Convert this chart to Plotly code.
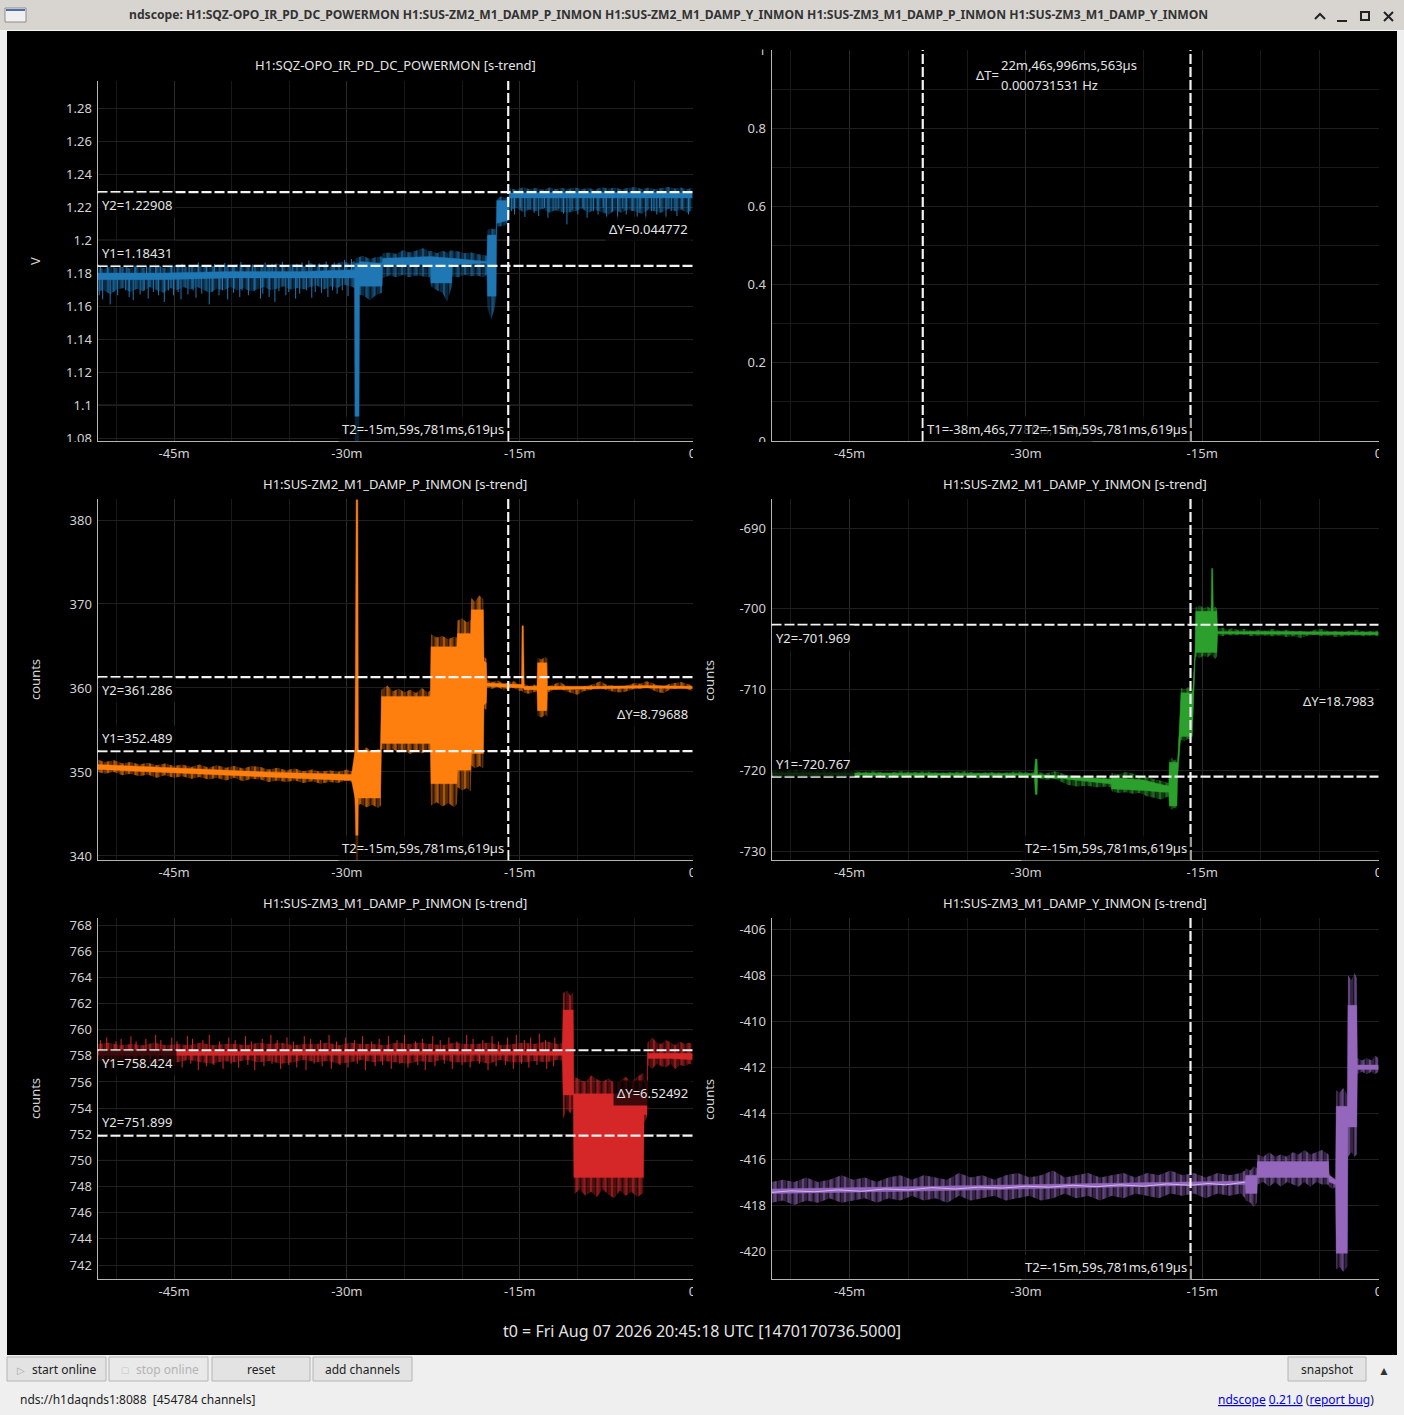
import plotly.graph_objects as go

W = 1404
H = 1415

blue = "#1f77b4"
orange = "#ff7f0e"
green = "#2ca02c"
red = "#d62728"
purple = "#9467bd"

# time in minutes before t0
blue_core_t = [-51.65, -46, -40, -34, -29.35, -29.3, -28.95, -28.9, -26.95, -26.9, -22.75, -22.7, -20.9, -20.85, -17.85, -17.8, -17.05, -17.0, -15.95, -15.9, -10, -5, 0]
blue_core_hi = [1.180, 1.180, 1.181, 1.181, 1.182, 1.186, 1.186, 1.187, 1.186, 1.189, 1.190, 1.190, 1.189, 1.189, 1.187, 1.203, 1.203, 1.224, 1.224, 1.2285, 1.229, 1.229, 1.2285]
blue_core_lo = [1.176, 1.176, 1.177, 1.177, 1.177, 1.078, 1.078, 1.172, 1.172, 1.185, 1.185, 1.174, 1.174, 1.185, 1.186, 1.166, 1.166, 1.210, 1.212, 1.2255, 1.2255, 1.2255, 1.2255]
blue_edge_t = [-51.65, -51.1, -50.5, -50.0, -49.4, -48.8, -48.2, -47.7, -47.1, -46.5, -45.9, -45.3, -44.8, -44.2, -43.6, -43.0, -42.4, -41.9, -41.3, -40.7, -40.1, -39.5, -39.0, -38.4, -37.8, -37.2, -36.6, -36.1, -35.5, -34.9, -34.3, -33.7, -33.2, -32.6, -32.0, -31.4, -30.8, -30.3, -29.7, -29.3,
               -29.25, -28.6, -28.0, -27.5, -26.95, -26.9, -26.3, -25.7, -25.1, -24.6, -24.0, -23.4, -22.8, -22.7, -22.2, -21.7, -21.3, -20.9, -20.85, -20.3, -19.8, -19.2, -18.7, -18.2, -17.85, -17.8, -17.5, -17.2, -17.0, -16.95, -16.6, -16.2, -15.9,
               -15.85, -15.3, -14.7, -14.2, -13.6, -13.0, -12.4, -11.9, -11.3, -10.9, -10.2, -9.6, -9.0, -8.5, -7.9, -7.3, -6.7, -6.2, -5.6, -5.0, -4.4, -3.8, -3.3, -2.7, -2.1, -1.5, -1.0, -0.5, 0]
blue_edge_hi = [1.1835, 1.1825, 1.1840, 1.1830, 1.1838, 1.1828, 1.1842, 1.1832, 1.1836, 1.1845, 1.1830, 1.1838, 1.1848, 1.1834, 1.1842, 1.1852, 1.1836, 1.1846, 1.1838, 1.1850, 1.1840, 1.1855, 1.1842, 1.1848, 1.1838, 1.1852, 1.1844, 1.1858, 1.1846, 1.1850, 1.1856, 1.1842, 1.1860, 1.1850, 1.1856, 1.1848, 1.1862, 1.1870, 1.1860, 1.1875,
                1.189, 1.1905, 1.1885, 1.1895, 1.190, 1.192, 1.1925, 1.1915, 1.194, 1.1925, 1.1935, 1.195, 1.193, 1.1935, 1.192, 1.1935, 1.1925, 1.194, 1.1935, 1.193, 1.192, 1.1925, 1.1915, 1.191, 1.1905, 1.206, 1.207, 1.2065, 1.2075, 1.225, 1.2265, 1.2255, 1.2275,
                1.2315, 1.2305, 1.232, 1.231, 1.2315, 1.2305, 1.2318, 1.231, 1.2315, 1.2308, 1.2318, 1.231, 1.2315, 1.2305, 1.232, 1.2312, 1.2318, 1.2308, 1.2315, 1.2322, 1.231, 1.2318, 1.2308, 1.2315, 1.2322, 1.2312, 1.2318, 1.2308, 1.2315]
blue_edge_lo = [1.169, 1.1695, 1.167, 1.170, 1.171, 1.1685, 1.1705, 1.169, 1.1715, 1.1695, 1.168, 1.171, 1.1695, 1.1715, 1.170, 1.1715, 1.1695, 1.168, 1.1705, 1.1695, 1.1715, 1.1695, 1.1710, 1.1690, 1.1700, 1.1715, 1.1695, 1.1705, 1.1720, 1.1700, 1.1710, 1.1700, 1.1715, 1.1725, 1.1700, 1.1720, 1.1710, 1.1730, 1.1720, 1.1710,
                1.167, 1.1665, 1.1635, 1.1665, 1.168, 1.177, 1.1785, 1.1775, 1.179, 1.1775, 1.1785, 1.178, 1.1775, 1.172, 1.1695, 1.168, 1.1625, 1.172, 1.178, 1.1775, 1.179, 1.178, 1.1785, 1.1775, 1.179, 1.159, 1.1515, 1.158, 1.166, 1.208, 1.2085, 1.209, 1.214,
                1.218, 1.2195, 1.217, 1.2185, 1.2175, 1.219, 1.2165, 1.218, 1.217, 1.2165, 1.2175, 1.219, 1.2165, 1.2185, 1.217, 1.2155, 1.218, 1.2165, 1.2185, 1.2175, 1.216, 1.2185, 1.2175, 1.2165, 1.219, 1.2175, 1.2185, 1.2165, 1.218]
blue_low_t = [-51.5, -51.2, -50.55, -50.3, -49.9, -49.2, -48.9, -48.55, -47.95, -47.6,
              -47.25, -46.8, -46.35, -45.85, -45.5, -45.05, -44.65, -44.4, -43.8, -43.35,
              -43.1, -42.6, -41.95, -41.7, -41.1, -40.8, -40.35, -39.85, -39.3, -39.1,
              -38.55, -38.05, -37.5, -37.3, -36.75, -36.25, -35.9, -35.3, -35.05, -34.45,
              -34.1, -33.5, -33.05, -32.75, -32.2, -31.65, -31.25, -30.85, -30.4, -29.9]
blue_low_y = [1.1665, 1.164, 1.161, 1.1685, 1.1665, 1.1695, 1.1655, 1.1635, 1.167, 1.1695,
              1.1645, 1.1685, 1.1665, 1.1625, 1.1695, 1.1665, 1.1685, 1.164, 1.167, 1.1695,
              1.165, 1.1675, 1.161, 1.1685, 1.1665, 1.1695, 1.164, 1.168, 1.1655, 1.1695,
              1.1665, 1.169, 1.1645, 1.1675, 1.1655, 1.1625, 1.169, 1.1665, 1.1685, 1.1645,
              1.1675, 1.1695, 1.165, 1.1685, 1.168, 1.1655, 1.1695, 1.1675, 1.1695, 1.166]
blue_up_t = [-51.4, -50.8, -49.7, -49.1, -48.4, -47.4, -46.6, -46.2, -45.2, -44.3,
             -43.7, -42.9, -42.2, -41.5, -40.6, -39.9, -39.2, -38.2, -37.1, -36.5,
             -35.6, -34.7, -33.9, -33.3, -32.4, -31.8, -31.1, -30.2, -29.6]
blue_up_y = [1.1838, 1.1848, 1.1842, 1.1836, 1.1852, 1.1845, 1.1858, 1.1842, 1.1850, 1.1856,
             1.1848, 1.1864, 1.1846, 1.1856, 1.1860, 1.1848, 1.1868, 1.1852, 1.1862, 1.1856,
             1.1868, 1.1852, 1.1864, 1.1876, 1.1858, 1.1870, 1.1864, 1.1880, 1.1885]
blue_right_t = [-15.7, -15.45, -14.95, -14.55, -14.1, -13.75, -13.35, -12.85, -12.55, -12.1,
                -11.6, -11.2, -10.9, -10.45, -9.95, -9.5, -9.15, -8.6, -8.2, -7.75,
                -7.45, -6.95, -6.5, -6.05, -5.75, -5.25, -4.8, -4.55, -4.05, -3.55,
                -3.1, -2.85, -2.3, -1.85, -1.35, -0.9, -0.35]
blue_right_y = [1.2175, 1.2155, 1.2195, 1.214, 1.2185, 1.2165, 1.2145, 1.2195, 1.2135, 1.2175,
                1.219, 1.216, 1.2095, 1.218, 1.2155, 1.2195, 1.2135, 1.2175, 1.2155, 1.2195,
                1.214, 1.2175, 1.2125, 1.219, 1.2155, 1.2175, 1.214, 1.219, 1.2125, 1.2175,
                1.2155, 1.2195, 1.2135, 1.2175, 1.2145, 1.219, 1.2155]

orange_core_t = [-51.65, -47, -42, -37, -32, -29.6, -29.3, -29.2, -29.05, -29.0, -27.1, -27.0, -22.75, -22.7, -20.45, -20.4, -19.25, -19.2, -18.15, -18.1, -17.9, -17.85, -14.85, -14.8, -14.68, -14.6, -13.5, -13.45, -12.65, -12.6, -8, -4, 0]
orange_core_hi = [350.9, 350.6, 350.3, 350.0, 349.8, 349.7, 352.5, 382.4, 382.4, 352.5, 352.5, 359.0, 359.0, 364.9, 364.9, 366.5, 366.5, 369.3, 369.3, 363.2, 363.0, 360.6, 360.4, 367.4, 367.4, 360.2, 360.2, 363.0, 363.0, 360.2, 360.2, 360.3, 360.2]
orange_core_lo = [350.3, 350.0, 349.7, 349.4, 349.1, 349.0, 346.9, 339.5, 339.5, 346.9, 346.9, 353.4, 353.4, 348.6, 348.6, 350.2, 350.2, 352.2, 352.2, 358.0, 358.2, 360.2, 360.0, 360.0, 360.0, 359.8, 359.8, 357.3, 357.3, 359.8, 359.9, 360.0, 359.9]
orange_edge_t = [-51.65, -51, -50.2, -49.5, -48.8, -48, -47.3, -46.5, -45.8, -45, -44.3, -43.5, -42.8, -42, -41.3, -40.5, -39.8, -39, -38.3, -37.5, -36.8, -36, -35.3, -34.5, -33.8, -33, -32.3, -31.5, -30.8, -30, -29.4,
                 -29.3, -28.8, -28.3, -27.8, -27.3, -27.05, -27, -26.5, -26, -25.5, -25, -24.5, -24, -23.5, -23, -22.75,
                 -22.7, -22.2, -21.7, -21.2, -20.7, -20.45, -20.4, -20, -19.6, -19.25, -19.2, -18.9, -18.5, -18.15, -18.1, -17.9,
                 -17.85, -17.4, -16.9, -16.4, -16, -15.5, -15, -14.85, -14.6, -14.2, -13.8, -13.5, -13.45, -13.1, -12.8, -12.6,
                 -12.55, -12, -11.5, -11, -10.5, -10, -9.5, -9, -8.5, -8, -7.5, -7, -6.5, -6, -5.5, -5, -4.5, -4, -3.5, -3, -2.5, -2, -1.5, -1, -0.5, 0]
orange_edge_hi = [351.5, 351.2, 351.4, 351.0, 351.2, 350.9, 351.1, 350.8, 351.0, 350.7, 350.9, 350.6, 350.9, 350.5, 350.8, 350.5, 350.7, 350.4, 350.7, 350.6, 350.3, 350.5, 350.2, 350.4, 350.1, 350.3, 350.0, 350.2, 350.0, 350.3, 350.0,
                  353.0, 352.5, 352.9, 352.4, 352.8, 352.6, 359.8, 360.3, 359.6, 359.9, 359.5, 359.8, 359.4, 360.0, 359.5, 359.7,
                  366.4, 366.0, 366.2, 365.8, 366.1, 366.0, 368.0, 368.3, 367.8, 368.1, 370.7, 370.3, 371.0, 370.6, 363.7, 363.5,
                  361.0, 360.7, 360.9, 360.5, 360.6, 360.8, 360.4, 360.5, 360.5, 360.2, 360.4, 360.3, 363.6, 363.4, 363.7, 363.5,
                  360.2, 360.5, 360.7, 360.3, 360.1, 359.8, 360.2, 360.3, 360.5, 360.8, 360.4, 360.3, 360.2, 360.1, 360.4, 360.6, 360.5, 360.8, 360.6, 360.3, 360.2, 360.5, 360.6, 360.7, 360.5, 360.3]
orange_edge_lo = [350.0, 349.8, 350.0, 349.6, 349.8, 349.5, 349.7, 349.3, 349.6, 349.3, 349.5, 349.2, 349.4, 349.1, 349.3, 349.0, 349.3, 348.9, 349.2, 349.1, 348.8, 349.0, 348.8, 349.0, 348.7, 348.9, 348.6, 348.8, 348.7, 349.0, 348.7,
                  345.9, 346.2, 345.8, 346.1, 345.7, 346.0, 352.8, 352.4, 352.7, 352.3, 352.6, 352.1, 352.5, 352.2, 352.6, 352.3,
                  346.0, 346.4, 345.9, 346.3, 345.8, 346.2, 348.2, 347.8, 348.1, 347.7, 350.8, 350.4, 350.7, 350.4, 357.6, 357.4,
                  360.0, 359.9, 360.1, 359.8, 359.9, 360.0, 359.6, 359.7, 359.4, 359.3, 359.5, 359.6, 356.7, 356.5, 356.8, 356.6,
                  359.5, 359.8, 359.9, 359.6, 359.4, 359.2, 359.6, 359.7, 359.9, 360.0, 359.8, 359.6, 359.5, 359.5, 359.7, 359.9, 359.9, 360.1, 359.8, 359.5, 359.4, 359.8, 359.9, 360.0, 359.9, 359.6]

green_core_t = [-51.65, -40, -29.3, -29.2, -29.05, -29.0, -27.1, -22.75, -22.7, -20, -18.3, -17.85, -17.8, -17.15, -17.1, -16.85, -16.8, -15.85, -15.8, -15.6, -15.55, -14.25, -14.2, -14.1, -14.05, -13.75, -13.7, -8, 0]
green_core_hi = [-720.3, -720.4, -720.4, -718.6, -718.6, -720.5, -720.7, -721.1, -720.9, -721.2, -721.8, -721.9, -719.0, -719.0, -719.0, -712.0, -710.4, -710.4, -710.0, -705.0, -700.3, -700.3, -695.0, -695.0, -700.3, -700.3, -702.8, -702.8, -702.9]
green_core_lo = [-720.5, -720.6, -720.6, -723.0, -723.0, -720.9, -721.0, -721.7, -722.3, -722.5, -722.7, -722.7, -724.4, -724.4, -721.0, -716.0, -715.8, -715.8, -714.0, -706.0, -705.4, -705.4, -705.4, -705.4, -705.4, -705.4, -703.1, -703.1, -703.2]
green_edge_t = [-51.65, -50.6, -49.5, -48.4, -47.3, -46.2, -45.1, -44, -42.9, -41.8, -40.7, -39.6, -38.5, -37.4, -36.3, -35.2, -34.1, -33, -31.9, -30.8, -29.7, -29.25,
                -29.0, -28.3, -27.6, -27.1, -26.4, -25.6, -24.8, -24, -23.2, -22.75, -22.7, -22.1, -21.5, -20.9, -20.3, -19.7, -19.1, -18.5, -18.3, -17.85,
                -17.8, -17.6, -17.4, -17.15, -17.1, -16.85, -16.8, -16.5, -16.2, -15.85, -15.8, -15.6, -15.55, -15.2, -14.9, -14.55, -14.25, -14.05, -13.9, -13.75,
                -13.7, -13.3, -12.9, -12.5, -12, -11.4, -10.8, -10.2, -9.6, -9, -8.4, -7.8, -7.2, -6.6, -6, -5.4, -4.8, -4.2, -3.6, -3, -2.4, -1.8, -1.2, -0.6, 0]
green_edge_hi = [-720.0, -720.1, -719.9, -720.1, -720.0, -720.2, -720.0, -720.2, -720.1, -720.3, -720.1, -720.2, -720.1, -720.3, -720.2, -720.1, -720.3, -720.2, -720.3, -720.1, -720.3, -720.2,
                 -720.2, -720.4, -720.1, -720.3, -720.6, -720.7, -720.8, -720.7, -720.9, -720.8, -720.3, -720.5, -720.2, -720.4, -720.7, -720.8, -721.1, -721.3, -721.4, -721.6,
                 -718.7, -718.4, -718.8, -718.6, -718.8, -711.5, -709.8, -710.0, -709.7, -710.0, -709.8, -704.5, -699.8, -699.6, -699.9, -699.7, -700.0, -699.9, -699.7, -700.0,
                 -702.5, -702.3, -702.6, -702.4, -702.6, -702.5, -702.7, -702.6, -702.7, -702.5, -702.7, -702.6, -702.8, -702.7, -702.9, -702.6, -702.5, -702.8, -702.7, -702.8, -702.7, -702.6, -702.8, -702.7, -702.7]
green_edge_lo = [-720.7, -720.8, -720.7, -720.8, -720.7, -720.9, -720.8, -720.9, -720.8, -721.0, -720.9, -720.9, -720.8, -721.0, -720.9, -720.8, -721.0, -720.9, -721.0, -720.9, -721.0, -720.9,
                 -721.0, -721.2, -721.0, -721.3, -721.8, -722.0, -721.9, -722.1, -722.0, -722.1, -722.6, -722.8, -722.7, -722.9, -722.8, -723.2, -723.4, -723.6, -723.5, -723.2,
                 -724.6, -724.9, -724.6, -724.8, -721.5, -716.3, -716.2, -716.4, -716.1, -716.3, -714.5, -706.5, -705.9, -706.1, -705.8, -706.0, -705.7, -706.0, -706.2, -705.9,
                 -703.3, -703.4, -703.2, -703.3, -703.3, -703.2, -703.4, -703.3, -703.3, -703.4, -703.3, -703.5, -703.4, -703.6, -703.3, -703.2, -703.4, -703.3, -703.5, -703.4, -703.3, -703.3, -703.4, -703.3, -703.4]

red_core_t = [-51.65, -40, -30, -20, -11.3, -11.23, -10.35, -10.3, -4.25, -4.2, -3.95, -3.9, -2, 0]
red_core_hi = [758.35, 758.35, 758.4, 758.4, 758.35, 761.5, 761.5, 755.1, 755.1, 755.0, 755.0, 758.2, 758.2, 758.2]
red_core_lo = [758.05, 758.05, 758.05, 758.1, 758.05, 755.0, 755.0, 748.7, 748.7, 753.5, 753.5, 757.8, 757.8, 757.7]
red_edge_t = [-51.65, -50.7, -49.7, -48.7, -47.7, -46.7, -45.7, -44.7, -43.7, -42.7, -41.7, -40.7, -39.7, -38.7, -37.7, -36.7, -35.7, -34.7, -33.7, -32.7, -31.7, -30.7, -29.7, -28.7, -27.7, -26.7, -25.7, -24.7, -23.7, -22.7, -21.7, -20.7, -19.7, -18.7, -17.7, -16.7, -15.7, -14.7, -13.7, -12.7, -11.7, -11.3,
              -11.23, -10.9, -10.6, -10.35, -10.3, -9.8, -9.3, -8.8, -8.3, -7.8, -7.3, -6.8, -6.3, -5.8, -5.3, -4.8, -4.25, -4.2, -3.95, -3.9, -3.5, -3.1, -2.7, -2.3, -1.9, -1.5, -1.1, -0.7, -0.3, 0]
red_edge_hi = [758.9, 759.0, 758.8, 758.9, 758.8, 759.0, 758.8, 758.9, 758.8, 759.0, 758.8, 758.9, 758.9, 758.8, 759.0, 758.9, 759.0, 758.8, 758.9, 758.9, 759.0, 758.8, 759.0, 758.9, 758.9, 758.8, 759.0, 758.9, 759.0, 758.9, 758.8, 759.0, 758.9, 758.9, 759.0, 758.8, 758.9, 759.0, 758.9, 759.1, 758.9, 759.0,
               762.8, 763.0, 762.6, 762.9, 756.4, 756.2, 756.0, 756.5, 756.2, 756.0, 756.3, 755.9, 756.1, 756.4, 756.0, 756.4, 756.7, 756.2, 756.0, 759.0, 759.4, 759.0, 758.9, 759.2, 759.0, 758.8, 759.1, 758.9, 759.0, 758.9]
red_edge_lo = [757.6, 757.5, 757.7, 757.5, 757.7, 757.4, 757.6, 757.5, 757.7, 757.5, 757.4, 757.6, 757.5, 757.7, 757.5, 757.6, 757.4, 757.5, 757.7, 757.5, 757.6, 757.4, 757.5, 757.7, 757.5, 757.6, 757.5, 757.4, 757.6, 757.5, 757.7, 757.5, 757.5, 757.6, 757.4, 757.7, 757.5, 757.5, 757.6, 757.5, 757.7, 757.6,
               753.2, 753.9, 753.6, 754.0, 747.4, 747.8, 747.3, 747.6, 747.2, 747.8, 747.4, 747.1, 747.7, 747.3, 747.6, 747.2, 747.5, 752.9, 753.3, 757.3, 757.0, 757.4, 757.2, 757.1, 757.4, 757.0, 757.3, 757.2, 757.4, 757.3]
red_up_t = [-51.4, -50.85, -50.05, -49.6, -48.75, -48.3, -47.45, -46.6, -46.15, -45.2,
            -44.75, -43.85, -43.4, -42.5, -41.95, -41.05, -40.25, -39.7, -38.8, -38.3,
            -37.35, -36.6, -36.05, -35.2, -34.65, -33.7, -33.15, -32.3, -31.55, -30.9,
            -30.1, -29.35, -28.65, -27.85, -27.2, -26.4, -25.65, -25.0, -24.05, -23.45,
            -22.55, -21.9, -21.15, -20.45, -19.6, -19.05, -18.2, -17.4, -16.85, -16.05,
            -15.3, -14.6, -14.05, -13.3, -12.75, -11.95]
red_up_y = [759.2, 759.4, 759.1, 759.3, 759.5, 759.1, 759.3, 759.6, 759.2, 759.4,
            759.1, 759.5, 759.3, 759.2, 759.6, 759.1, 759.4, 759.2, 759.5, 759.1,
            759.3, 759.6, 759.2, 759.4, 759.1, 759.5, 759.3, 759.2, 759.6, 759.1,
            759.4, 759.2, 759.5, 759.1, 759.3, 759.5, 759.2, 759.6, 759.1, 759.3,
            759.5, 759.2, 759.4, 759.1, 759.6, 759.3, 759.2, 759.5, 759.1, 759.4,
            759.6, 759.2, 759.4, 759.7, 759.2, 759.4]
red_low_t = [-51.1, -50.45, -49.85, -49.1, -48.45, -47.8, -47.05, -46.4, -45.65, -45.0,
             -44.3, -43.55, -42.9, -42.2, -41.55, -40.75, -40.05, -39.4, -38.6, -38.0,
             -37.2, -36.5, -35.75, -35.05, -34.35, -33.55, -32.85, -32.15, -31.35, -30.6,
             -29.9, -29.1, -28.4, -27.55, -26.9, -26.15, -25.4, -24.7, -23.85, -23.2,
             -22.35, -21.55, -20.85, -20.0, -19.3, -18.5, -17.75, -17.05, -16.25, -15.55,
             -14.85, -14.2, -13.5, -12.65, -12.05]
red_low_y = [757.3, 757.0, 757.4, 757.1, 757.3, 756.9, 757.2, 757.4, 757.0, 757.3,
             757.1, 757.4, 756.9, 757.2, 757.3, 757.0, 757.4, 757.1, 757.3, 756.9,
             757.2, 757.4, 757.0, 757.3, 757.1, 756.9, 757.4, 757.2, 757.0, 757.3,
             757.1, 757.4, 756.9, 757.2, 757.3, 757.0, 757.4, 757.1, 757.3, 756.9,
             757.2, 757.4, 757.0, 757.3, 757.1, 757.4, 756.9, 757.2, 757.3, 757.0,
             757.4, 757.1, 757.3, 757.0, 757.2]

purple_core_t = [-51.65, -40, -30, -20, -11.35, -11.3, -10.35, -10.3, -4.25, -4.2, -3.65, -3.6, -2.65, -2.6, -1.85, -1.8, -1, 0]
purple_core_hi = [-417.3, -417.2, -417.1, -417.0, -416.95, -416.7, -416.7, -416.1, -416.1, -416.7, -416.9, -413.7, -413.7, -409.3, -409.3, -411.9, -411.9, -411.9]
purple_core_lo = [-417.5, -417.4, -417.3, -417.2, -417.1, -417.5, -417.5, -416.8, -416.8, -417.0, -417.1, -420.1, -420.1, -414.6, -414.6, -412.1, -412.1, -412.1]
purple_edge_t = [-51.65, -50.7, -49.7, -48.7, -47.7, -46.7, -45.7, -44.7, -43.7, -42.7, -41.7, -40.7, -39.7, -38.7, -37.7, -36.7, -35.7, -34.7, -33.7, -32.7, -31.7, -30.7, -29.7, -28.7, -27.7, -26.7, -25.7, -24.7, -23.7, -22.7, -21.7, -20.7, -19.7, -18.7, -17.7, -16.7, -15.7, -14.7, -13.7, -12.7, -11.7, -11.35,
                 -11.3, -10.9, -10.6, -10.35, -10.3, -9.8, -9.3, -8.8, -8.3, -7.8, -7.3, -6.8, -6.3, -5.8, -5.3, -4.8, -4.25, -4.2, -3.9, -3.65,
                 -3.6, -3.3, -3.0, -2.65, -2.6, -2.3, -2.05, -1.85, -1.8, -1.4, -1, -0.6, -0.3, 0]
purple_edge_hi = [-417.0, -416.9, -417.0, -416.8, -417.0, -416.9, -416.7, -416.9, -416.8, -417.0, -416.8, -416.7, -416.9, -416.7, -416.8, -416.9, -416.6, -416.8, -416.7, -416.9, -416.7, -416.6, -416.8, -416.7, -416.5, -416.8, -416.7, -416.6, -416.8, -416.7, -416.6, -416.8, -416.6, -416.7, -416.5, -416.7, -416.6, -416.8, -416.6, -416.7, -416.6, -416.5,
                  -416.4, -416.5, -416.3, -416.4, -415.8, -415.9, -415.7, -415.9, -415.8, -415.9, -415.7, -415.8, -415.6, -415.8, -415.7, -415.6, -415.8, -416.6, -416.8, -416.9,
                  -413.0, -413.1, -412.9, -413.2, -408.0, -408.2, -407.9, -408.1, -411.6, -411.7, -411.6, -411.7, -411.5, -411.6]
purple_edge_lo = [-417.9, -417.8, -418.0, -417.8, -417.9, -417.7, -417.9, -417.8, -417.7, -417.9, -417.7, -417.8, -417.6, -417.8, -417.7, -417.9, -417.6, -417.8, -417.7, -417.6, -417.8, -417.7, -417.6, -417.8, -417.7, -417.5, -417.7, -417.6, -417.8, -417.6, -417.7, -417.5, -417.6, -417.7, -417.5, -417.6, -417.5, -417.7, -417.5, -417.6, -417.5, -417.7,
                  -417.8, -417.9, -418.1, -417.9, -417.1, -417.0, -417.2, -417.0, -417.2, -417.0, -417.1, -417.2, -417.0, -417.2, -417.0, -417.1, -417.1, -417.2, -417.3, -417.2,
                  -420.8, -420.7, -420.9, -420.7, -415.9, -415.7, -415.9, -415.8, -412.3, -412.2, -412.3, -412.2, -412.3, -412.2]
purple_mean_t = [-51.65, -50, -48, -46, -44, -42, -40, -38, -36, -34, -32, -30, -28, -26, -24, -22, -20, -18, -16, -14.5, -13, -11.35]
purple_mean = [-417.45, -417.38, -417.42, -417.34, -417.4, -417.3, -417.34, -417.24, -417.3, -417.22, -417.26, -417.18, -417.22, -417.14, -417.2, -417.12, -417.18, -417.08, -417.14, -417.06, -417.12, -417.0]

channels = ["H1:SQZ-OPO_IR_PD_DC_POWERMON", None,
            "H1:SUS-ZM2_M1_DAMP_P_INMON", "H1:SUS-ZM2_M1_DAMP_Y_INMON",
            "H1:SUS-ZM3_M1_DAMP_P_INMON", "H1:SUS-ZM3_M1_DAMP_Y_INMON"]

x_ticks = [-45, -30, -15, 0]
x_labels = ["-45m", "-30m", "-15m", "0"]
x_minor = [-50, -40, -35, -25, -20, -10, -5]
x_range = [-51.65, 0]

y1_ticks = [1.08, 1.1, 1.12, 1.14, 1.16, 1.18, 1.2, 1.22, 1.24, 1.26, 1.28]
y1_labels = ["1.08", "1.1", "1.12", "1.14", "1.16", "1.18", "1.2", "1.22", "1.24", "1.26", "1.28"]
y2_ticks = [0, 0.2, 0.4, 0.6, 0.8, 1]
y2_labels = ["0", "0.2", "0.4", "0.6", "0.8", "1"]
y3_ticks = [340, 350, 360, 370, 380]
y4_ticks = [-730, -720, -710, -700, -690]
y5_ticks = list(range(742, 770, 2))
y6_ticks = list(range(-420, -404, 2))

t1 = -38.7796
t2 = -15.9964

# pixel boxes of the six plots: left, right, top, bottom
boxes = [(97.5, 692.5, 81, 441), (771.5, 1378.5, 50, 441),
         (97.5, 692.5, 499, 860), (771.5, 1378.5, 499, 860),
         (97.5, 692.5, 918, 1279), (771.5, 1378.5, 918, 1279)]
y_ranges = [(1.0782, 1.2964), (0, 1), (339.52, 382.5), (-731.1, -686.4), (740.93, 768.54), (-421.22, -405.5)]
y_tick_sets = [y1_ticks, y2_ticks, y3_ticks, y4_ticks, y5_ticks, y6_ticks]


def px(x):
    return x / W


def py(y):
    return 1 - y / H


fig = go.Figure()


def band(n, t, hi, lo, color, pattern=False):
    assert len(t) == len(hi) == len(lo)
    common = dict(x=t + t[::-1], y=hi + lo[::-1], mode="lines", fill="toself", xaxis=f"x{n}", yaxis=f"y{n}",
                  hoverinfo="skip", showlegend=False)
    if pattern:
        # min/max fringe: two vertical hatches that beat against each other
        for size, sol in [(3, 0.58), (7, 0.42)]:
            fig.add_trace(go.Scatter(line=dict(color=color, width=0),
                                     fillpattern=dict(shape="|", size=size, solidity=sol, fgcolor=color,
                                                      bgcolor="rgba(0,0,0,0)"), **common))
    else:
        fig.add_trace(go.Scatter(line=dict(color=color, width=0.4), fillcolor=color, **common))


def hairs(n, t, y, base, color):
    assert len(t) == len(y)
    xs = []
    ys = []
    for a, b in zip(t, y):
        xs += [a, a, None]
        ys += [base, b, None]
    fig.add_trace(go.Scatter(x=xs, y=ys, mode="lines", line=dict(color=color, width=1), xaxis=f"x{n}", yaxis=f"y{n}",
                             hoverinfo="skip", showlegend=False))


band(1, blue_edge_t, blue_edge_hi, blue_edge_lo, blue, True)
band(1, blue_core_t, blue_core_hi, blue_core_lo, blue)
hairs(1, blue_low_t, blue_low_y, 1.177, blue)
hairs(1, blue_up_t, blue_up_y, 1.180, blue)
hairs(1, blue_right_t, blue_right_y, 1.226, blue)
band(3, orange_edge_t, orange_edge_hi, orange_edge_lo, orange, True)
band(3, orange_core_t, orange_core_hi, orange_core_lo, orange)
band(4, green_edge_t, green_edge_hi, green_edge_lo, green, True)
band(4, green_core_t, green_core_hi, green_core_lo, green)
band(5, red_edge_t, red_edge_hi, red_edge_lo, red, True)
band(5, red_core_t, red_core_hi, red_core_lo, red)
hairs(5, red_up_t, red_up_y, 758.3, red)
hairs(5, red_low_t, red_low_y, 758.1, red)
band(6, purple_edge_t, purple_edge_hi, purple_edge_lo, purple, True)
band(6, purple_core_t, purple_core_hi, purple_core_lo, purple)
fig.add_trace(go.Scatter(x=purple_mean_t, y=purple_mean, mode="lines", line=dict(color="#d3b5ee", width=1),
                         xaxis="x6", yaxis="y6", hoverinfo="skip", showlegend=False))
# keeps the empty cursor plot on the page
fig.add_trace(go.Scatter(x=[], y=[], xaxis="x2", yaxis="y2", showlegend=False))

axes = {}
for i in range(6):
    n = i + 1
    suffix = "" if n == 1 else str(n)
    left, right, top, bottom = boxes[i]
    axes[f"xaxis{suffix}"] = dict(
        domain=[px(left), px(right)], anchor=f"y{suffix}", range=x_range, tickmode="array",
        tickvals=x_ticks, ticktext=x_labels, showgrid=True, gridcolor="#2a2a2a", gridwidth=1,
        minor=dict(tickmode="array", tickvals=x_minor, showgrid=True, gridcolor="#191919", gridwidth=1, ticks=""),
        zeroline=False, showline=True, linecolor="#b4b4b4", linewidth=1, ticks="",
        tickfont=dict(family="Noto Sans", size=13, color="#d2d2d2"))
    y_text = y_tick_sets[i]
    if i == 0:
        y_text = y1_labels
    if i == 1:
        y_text = y2_labels
    axes[f"yaxis{suffix}"] = dict(
        domain=[py(bottom), py(top)], anchor=f"x{suffix}", range=list(y_ranges[i]), tickmode="array",
        tickvals=y_tick_sets[i], ticktext=[str(v) for v in y_text], showgrid=True, gridcolor="#1f1f1f", gridwidth=1,
        zeroline=False, showline=True, linecolor="#b4b4b4", linewidth=1, ticks="outside", ticklen=2,
        tickcolor="rgba(0,0,0,0)", tickfont=dict(family="Noto Sans", size=13, color="#d2d2d2"))
axes["yaxis2"]["minor"] = dict(tickmode="array", tickvals=[0.1, 0.3, 0.5, 0.7, 0.9], showgrid=True,
                               gridcolor="#191919", gridwidth=1, ticks="")

shapes = []
# window chrome
chrome = [(0, W, 0, 30, "#d8d5d1"), (0, W, 30, 31, "#f4f4f4"), (0, 7, 31, 1355, "#efefef"),
          (1397, W, 31, 1355, "#efefef"), (0, W, 1355, H, "#efefef")]
for x0, x1, y0, y1, c in chrome:
    shapes.append(dict(type="rect", xref="paper", yref="paper", x0=px(x0), x1=px(x1), y0=py(y0), y1=py(y1),
                       fillcolor=c, line=dict(width=0), layer="below"))
shapes.append(dict(type="rect", xref="paper", yref="paper", x0=px(5), x1=px(26), y0=py(8), y1=py(22),
                   fillcolor="#f0f0f0", line=dict(color="#8d8d8d", width=1), layer="below"))
shapes.append(dict(type="rect", xref="paper", yref="paper", x0=px(6), x1=px(25), y0=py(9), y1=py(11),
                   fillcolor="#4a6ea9", line=dict(width=0), layer="below"))
buttons = [(7, 106, "#e3e3e3"), (109, 208, "#e9e9e9"), (212, 310, "#e3e3e3"), (313, 412, "#e3e3e3"), (1288, 1366, "#e3e3e3")]
for x0, x1, c in buttons:
    shapes.append(dict(type="rect", xref="paper", yref="paper", x0=px(x0), x1=px(x1), y0=py(1357), y1=py(1381),
                       fillcolor=c, line=dict(color="#b5b5b5", width=1), layer="below"))
icons = ["M 1315 19 L 1320 14 L 1325 19", "M 1337 21 L 1347 21", "M 1361 12 L 1369 12 L 1369 20 L 1361 20 Z",
         "M 1384 12 L 1393 21 M 1393 12 L 1384 21"]
for p in icons:
    parts = p.split()
    out = []
    j = 0
    while j < len(parts):
        if parts[j] in "MLZ":
            out.append(parts[j])
            j += 1
        else:
            out.append(f"{px(float(parts[j])):.5f},{py(float(parts[j + 1])):.5f}")
            j += 2
    shapes.append(dict(type="path", xref="paper", yref="paper", path=" ".join(out), line=dict(color="#222222", width=2), layer="below"))

# brighter decade lines
for n, vals in [(1, [1.1, 1.2]), (5, [750, 760])]:
    suffix = "" if n == 1 else str(n)
    for v in vals:
        shapes.append(dict(type="line", xref=f"x{suffix} domain", yref=f"y{suffix}", x0=0, x1=1, y0=v, y1=v,
                           line=dict(color="#2e2e2e", width=1), layer="below"))

cursor_line = dict(color="#f4f4f4", width=2.2, dash="10px,3px")
for n in [1, 2, 3, 4, 6]:
    suffix = "" if n == 1 else str(n)
    shapes.append(dict(type="line", xref=f"x{suffix}", yref=f"y{suffix} domain", x0=t2, x1=t2, y0=0, y1=1, line=cursor_line))
shapes.append(dict(type="line", xref="x2", yref="y2 domain", x0=t1, x1=t1, y0=0, y1=1, line=cursor_line))
y_cursors = [(1, 1.22908), (1, 1.18431), (3, 361.286), (3, 352.489), (4, -701.969), (4, -720.767), (5, 758.424), (5, 751.899)]
for n, v in y_cursors:
    suffix = "" if n == 1 else str(n)
    shapes.append(dict(type="line", xref=f"x{suffix} domain", yref=f"y{suffix}", x0=0, x1=1, y0=v, y1=v, line=cursor_line))

# clipped tick labels at the plot edges
masks = [(60, 96.5, 442, 450), (745, 770.5, 42, 49.5), (745, 770.5, 442, 450)]
for left_edge, right_edge in [(693, 708), (1379, 1395)]:
    for y0 in [443, 862, 1281]:
        masks.append((left_edge, right_edge, y0, y0 + 20))
for x0, x1, y0, y1 in masks:
    shapes.append(dict(type="rect", xref="paper", yref="paper", x0=px(x0), x1=px(x1), y0=py(y0), y1=py(y1),
                       fillcolor="black", line=dict(width=0), layer="above"))

notes = []


def note(x, y, text, anchor="left", size=13, color="#e4e4e4", bg=None, **kw):
    d = dict(xref="paper", yref="paper", x=px(x), y=py(y), text=text, xanchor=anchor, yanchor="middle",
             showarrow=False, font=dict(family="Noto Sans", size=size, color=color))
    if bg:
        d["bgcolor"] = bg
        d["borderpad"] = 3
    d.update(kw)
    notes.append(d)


label_bg = "rgba(0,0,0,0.72)"
title_x = [395, 1075, 395, 1075, 395, 1075]
title_y = [65, None, 484, 484, 903, 903]
for i, name in enumerate(channels):
    if name:
        note(title_x[i], title_y[i], name + " [s-trend]", "center")

note(35, 261, "V", "center", color="#d2d2d2", textangle=-90)
for x, y in [(35, 680), (709, 680), (35, 1099), (709, 1099)]:
    note(x, y, "counts", "center", color="#d2d2d2", textangle=-90)

y_notes = [(97.5, 205, "Y2=1.22908"), (97.5, 253, "Y1=1.18431"), (97.5, 690, "Y2=361.286"), (97.5, 738, "Y1=352.489"),
           (771.5, 638, "Y2=-701.969"), (771.5, 764, "Y1=-720.767"), (97.5, 1063, "Y1=758.424"), (97.5, 1122, "Y2=751.899")]
for x, y, s in y_notes:
    note(x, y, s, "left", bg=label_bg)
dy_notes = [(692, 229, "ΔY=0.044772"), (692, 714, "ΔY=8.79688"), (1378, 701, "ΔY=18.7983"), (692, 1093, "ΔY=6.52492")]
for x, y, s in dy_notes:
    note(x, y, s, "right", bg=label_bg)

note(923, 429, "T1=-38m,46s,778ms,182µs", "left", bg=label_bg)
t2_text = "T2=-15m,59s,781ms,619µs"
for x, y in [(508, 429), (1190.5, 429), (508, 848), (1190.5, 848), (1190.5, 1267)]:
    note(x, y, t2_text, "right", bg=label_bg)

note(974, 75, "ΔT=")
note(999, 65, "22m,46s,996ms,563µs")
note(999, 85, "0.000731531 Hz")

note(702, 1331, "t0 = Fri Aug 07 2026 20:45:18 UTC [1470170736.5000]", "center", size=16)
note(668, 15, "<b>ndscope: H1:SQZ-OPO_IR_PD_DC_POWERMON H1:SUS-ZM2_M1_DAMP_P_INMON H1:SUS-ZM2_M1_DAMP_Y_INMON H1:SUS-ZM3_M1_DAMP_P_INMON H1:SUS-ZM3_M1_DAMP_Y_INMON</b>",
     "center", size=12.15, color="#333333")
note(64, 1369.5, "start online", "center", size=12, color="#222222")
note(21, 1369.5, "▷", "center", size=10, color="#aaaaaa")
note(167, 1369.5, "stop online", "center", size=12, color="#b4b4b4")
note(125, 1369.5, "▢", "center", size=9, color="#c4c4c4")
note(261, 1369.5, "reset", "center", size=12, color="#222222")
note(362.5, 1369.5, "add channels", "center", size=12, color="#222222")
note(1327, 1369.5, "snapshot", "center", size=12, color="#222222")
note(1384, 1370, "▲", "center", size=12, color="#333333")
note(18, 1399, "nds://h1daqnds1:8088  [454784 channels]", "left", size=12, color="#222222")
link = "<span style='color:#0000e0'><u>ndscope</u> <u>0.21.0</u></span> (<span style='color:#0000e0'><u>report bug</u></span>)"
note(1376, 1399, link, "right", size=12, color="#222222")

fig.update_layout(width=W, height=H, margin=dict(l=0, r=0, t=0, b=0, autoexpand=False), paper_bgcolor="black",
                  plot_bgcolor="rgba(0,0,0,0)", showlegend=False, hovermode=False, shapes=shapes, annotations=notes, **axes)

fig.write_html("out.html", config=dict(displayModeBar=False),
               post_script="document.body.style.margin='0';document.body.style.overflow='hidden';")
